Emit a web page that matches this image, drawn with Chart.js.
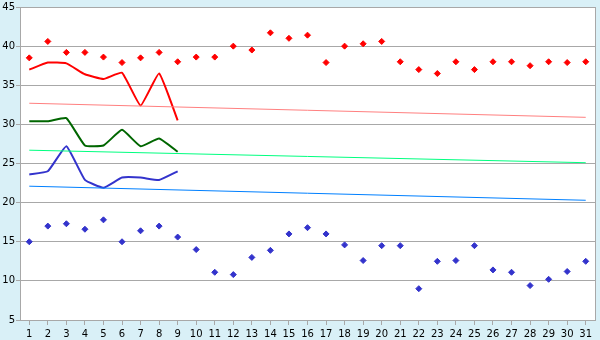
<!DOCTYPE html>
<html>
<head>
<meta charset="utf-8">
<script src="https://cdn.jsdelivr.net/npm/chart.js@4/dist/chart.umd.min.js"></script>
<style>
  html, body { margin: 0; padding: 0; background: #d9f0f7; }
  #wrap { width: 600px; height: 340px; }
</style>
</head>
<body>
<div id="wrap"><canvas id="myChart" width="600" height="340"></canvas></div>
<script>
var days = ['1','2','3','4','5','6','7','8','9','10','11','12','13','14','15','16','17','18','19','20','21','22','23','24','25','26','27','28','29','30','31'];

// lines, days 1-9
var redLine   = [37.0, 37.9, 37.8, 36.4, 35.8, 36.6, 32.4, 36.5, 30.5];
var greenLine = [30.4, 30.4, 30.8, 27.3, 27.3, 29.3, 27.2, 28.2, 26.5];
var blueLine  = [23.6, 24.0, 27.2, 22.9, 21.9, 23.2, 23.2, 22.9, 24.0];

// points, days 1-31
var redDots = [38.5, 40.6, 39.2, 39.2, 38.6, 37.9, 38.5, 39.2, 38.0, 38.6,
               38.6, 40.0, 39.5, 41.7, 41.0, 41.4, 37.9, 40.0, 40.3, 40.6,
               38.0, 37.0, 36.5, 38.0, 37.0, 38.0, 38.0, 37.5, 38.0, 37.9, 38.0];
var blueDots = [15.0, 17.0, 17.3, 16.6, 17.8, 15.0, 16.4, 17.0, 15.6, 14.0,
                11.1, 10.8, 13.0, 13.9, 16.0, 16.8, 16.0, 14.6, 12.6, 14.5,
                14.5, 9.0, 12.5, 12.6, 14.5, 11.4, 11.1, 9.4, 10.2, 11.2, 12.5];

// trend lines: value at day 1 and day 31
var redTrend   = [32.7, 30.9];
var greenTrend = [26.7, 25.1];
var blueTrend  = [22.1, 20.3];

function ends(vals) {
    return [{x: days[0], y: vals[0]}, {x: days[days.length - 1], y: vals[1]}];
}

var plotFrame = {
    id: 'plotFrame',
    beforeDraw: function (chart) {
        var a = chart.chartArea, c = chart.ctx;
        c.save();
        c.fillStyle = '#ffffff';
        c.fillRect(a.left, a.top, a.right - a.left, a.bottom - a.top);
        c.restore();
    },
    afterDraw: function (chart) {
        var a = chart.chartArea, c = chart.ctx;
        c.save();
        c.strokeStyle = '#a8a8a8';
        c.lineWidth = 1;
        c.beginPath();
        c.moveTo(a.right + 0.5, a.top);
        c.lineTo(a.right + 0.5, a.bottom);
        c.stroke();
        c.restore();
    }
};

var ctx = document.getElementById('myChart').getContext('2d');

var graphData = {
    type: 'line',
    data: {
        labels: days,
        datasets: [
            { data: ends(redTrend), borderColor: '#ff8080', borderWidth: 1, pointRadius: 0, tension: 0 },
            { data: ends(greenTrend), borderColor: '#00ff80', borderWidth: 1, pointRadius: 0, tension: 0 },
            { data: ends(blueTrend), borderColor: '#0080ff', borderWidth: 1, pointRadius: 0, tension: 0 },
            { data: redLine, borderColor: '#ff0000', borderWidth: 2, pointRadius: 0, tension: 0.12 },
            { data: greenLine, borderColor: '#006600', borderWidth: 2, pointRadius: 0, tension: 0.12 },
            { data: blueLine, borderColor: '#3333cc', borderWidth: 2, pointRadius: 0, tension: 0.12 },
            { data: redDots, showLine: false, pointStyle: 'rectRot', pointRadius: 3,
              backgroundColor: '#ff0000', borderColor: '#ff0000', borderWidth: 1 },
            { data: blueDots, showLine: false, pointStyle: 'rectRot', pointRadius: 3,
              backgroundColor: '#3333cc', borderColor: '#3333cc', borderWidth: 1 }
        ]
    },
    options: {
        responsive: false,
        animation: false,
        layout: { padding: { top: 5, right: 5, left: 0, bottom: 0 } },
        plugins: { legend: { display: false }, tooltip: { enabled: false } },
        scales: {
            x: {
                offset: true,
                grid: { display: true, offset: false, drawOnChartArea: false, drawTicks: true,
                        tickLength: 5, color: '#a8a8a8' },
                border: { color: '#a8a8a8' },
                ticks: { color: '#000', font: { family: 'DejaVu Sans', size: 10 }, padding: 3,
                         autoSkip: false, maxRotation: 0 },
                afterFit: function (s) { s.height = 20; }
            },
            y: {
                min: 5, max: 45,
                grid: { color: '#a8a8a8', tickLength: 4 },
                border: { color: '#a8a8a8' },
                ticks: { stepSize: 5, color: '#000', font: { family: 'DejaVu Sans', size: 10 }, padding: 1 },
                afterFit: function (s) { s.width = 20; }
            }
        }
    },
    plugins: [plotFrame]
};

var myChart = new Chart(ctx, graphData);
</script>
</body>
</html>
